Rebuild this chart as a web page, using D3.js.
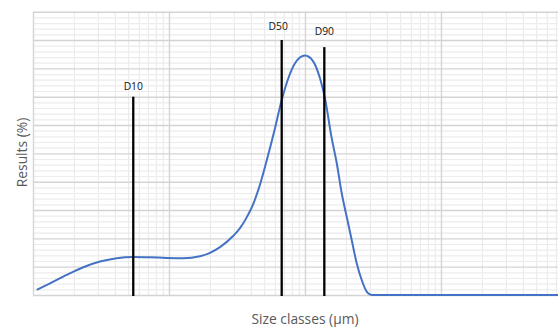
<!DOCTYPE html>
<html>
<head>
<meta charset="utf-8">
<script src="https://cdn.jsdelivr.net/npm/d3@7"></script>
<style>
  html, body { margin: 0; padding: 0; background: #fff; }
  svg { display: block; }
  .grid path { display: none; }
</style>
</head>
<body>
<svg id="chart" width="558" height="327"></svg>
<script>
// Particle size distribution: size class (µm) vs. results (%)
const sizeClasses = [1.065, 1.334, 1.769, 2.344, 3.109, 4.125, 5.464, 7.25, 9.62, 12.74,
  16.9, 20.02, 23.71, 29.71, 33.28, 37.27, 41.68, 46.69, 52.29, 60.17,
  67.42, 75.4, 84.45, 100, 115.1, 128.9, 140.3, 157.1, 171.1, 186.2,
  202.6, 220.5, 240, 261.2, 284.2, 300.6, 310.9, 400, 600, 1000, 2000, 5000, 10000];
const results = [0.18, 0.41, 0.71, 0.98, 1.18, 1.30, 1.34, 1.33, 1.31, 1.30,
  1.37, 1.49, 1.69, 2.09, 2.36, 2.74, 3.22, 3.90, 4.75, 5.89,
  6.88, 7.65, 8.18, 8.45, 8.24, 7.65, 6.94, 5.54, 4.66, 3.59,
  2.76, 1.94, 1.12, 0.53, 0.12, 0.02, 0, 0, 0, 0, 0, 0, 0];

// Characteristic diameters and the heights of their marker lines
const markerNames = ["D10", "D50", "D90"];
const markerSizes = [5.46, 67.4, 138.7];
const markerHeights = [7.0, 9.0, 8.75];

const xDecades = [1, 10, 100, 1000, 10000];
const yMax = 10;

const svg = d3.select("#chart");
const mLeft = 33, mRight = 577, mTop = 11.7, mBottom = 295;

const x = d3.scaleLog().domain([1, 10000]).range([mLeft, mRight]);
const y = d3.scaleLinear().domain([0, yMax]).range([mBottom, mTop]);

// Minor / major tick values
const xMinor = [];
xDecades.slice(0, -1).forEach(d => { for (let k = 2; k <= 9; k++) xMinor.push(d * k); });
const yMinor = d3.range(0, yMax + 0.001, 0.2).filter(v => Math.abs(v - Math.round(v)) > 1e-6);
const yMajor = d3.range(0, yMax + 1, 1);

const plot = svg.append("g");

// Minor grid
plot.append("g").attr("class", "grid")
  .attr("transform", `translate(0,${mBottom})`)
  .call(d3.axisBottom(x).tickValues(xMinor).tickSize(-(mBottom - mTop)).tickFormat(""))
  .selectAll("line").attr("stroke", "#ececec").attr("stroke-width", 1.2);
plot.append("g").attr("class", "grid")
  .attr("transform", `translate(${mLeft},0)`)
  .call(d3.axisLeft(y).tickValues(yMinor).tickSize(-(mRight - mLeft)).tickFormat(""))
  .selectAll("line").attr("stroke", "#ececec").attr("stroke-width", 1.2);

// Major grid
plot.append("g").attr("class", "grid")
  .attr("transform", `translate(0,${mBottom})`)
  .call(d3.axisBottom(x).tickValues(xDecades).tickSize(-(mBottom - mTop)).tickFormat(""))
  .selectAll("line").attr("stroke", "#d4d4d4").attr("stroke-width", 1.4);
plot.append("g").attr("class", "grid")
  .attr("transform", `translate(${mLeft},0)`)
  .call(d3.axisLeft(y).tickValues(yMajor).tickSize(-(mRight - mLeft)).tickFormat(""))
  .selectAll("line").attr("stroke", "#d4d4d4").attr("stroke-width", 1.4);

// Distribution curve
const pts = sizeClasses.map((s, i) => [s, results[i]]);
plot.append("path")
  .datum(pts)
  .attr("fill", "none")
  .attr("stroke", "#4472C4")
  .attr("stroke-width", 2)
  .attr("stroke-linejoin", "round")
  .attr("d", d3.line().x(d => x(d[0])).y(d => y(d[1])).curve(d3.curveMonotoneX));

// Marker lines with labels
const labelNudge = [[0, -11], [-3.5, -14], [0, -16.5]];
markerNames.forEach((name, i) => {
  const mx = x(markerSizes[i]);
  plot.append("line")
    .attr("x1", mx).attr("x2", mx)
    .attr("y1", y(0) + 1).attr("y2", y(markerHeights[i]))
    .attr("stroke", "#000").attr("stroke-width", 2.3);
  plot.append("text")
    .attr("x", mx + labelNudge[i][0])
    .attr("y", y(markerHeights[i]) + labelNudge[i][1])
    .attr("text-anchor", "middle")
    .attr("dominant-baseline", "central")
    .attr("font-family", "'Open Sans', sans-serif")
    .attr("font-size", 10.3)
    .attr("fill", "#111")
    .text(name);
});

// Axis titles
svg.append("text")
  .attr("x", 305).attr("y", 318.5)
  .attr("text-anchor", "middle")
  .attr("dominant-baseline", "central")
  .attr("font-family", "'Open Sans', sans-serif")
  .attr("font-size", 13.8)
  .attr("fill", "#595959")
  .text("Size classes (µm)");

svg.append("text")
  .attr("transform", "translate(21.5,152.5) rotate(-90)")
  .attr("text-anchor", "middle")
  .attr("dominant-baseline", "central")
  .attr("font-family", "'Open Sans', sans-serif")
  .attr("font-size", 13.8)
  .attr("fill", "#595959")
  .text("Results (%)");
</script>
</body>
</html>
